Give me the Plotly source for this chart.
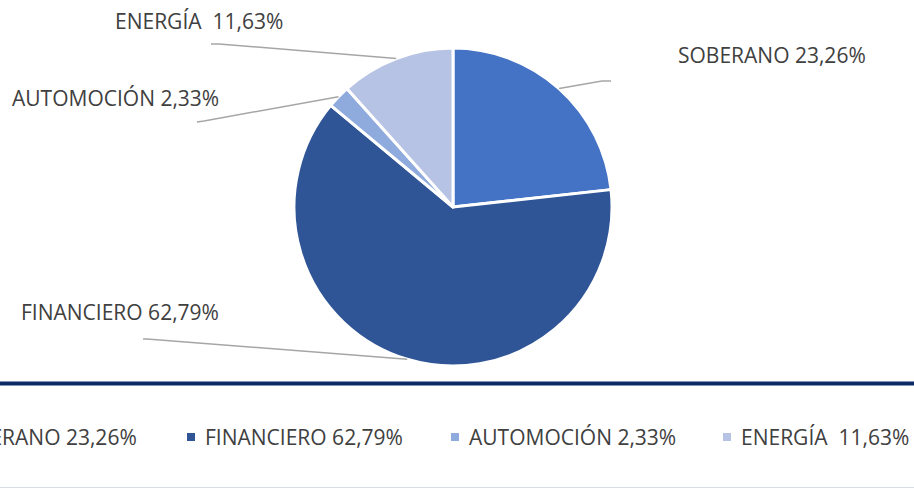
import math
import plotly.graph_objects as go

# ---- data ----
categories = ["SOBERANO", "FINANCIERO", "AUTOMOCIÓN", "ENERGÍA "]
values = [23.26, 62.79, 2.33, 11.63]
value_labels = ["23,26%", "62,79%", "2,33%", "11,63%"]
colors = ["#4472C4", "#2F5597", "#8FAADC", "#B7C3E4"]

W, H = 914, 489
FONT = "Open Sans"
TXT = "#404040"

# pie placement (pixels)
CX, CY, R = 453, 207, 159


def px(x):
    return x / W


def py(y):
    return 1 - y / H


fig = go.Figure()
fig.add_trace(go.Pie(
    labels=categories,
    values=values,
    sort=False,
    direction="clockwise",
    rotation=0,
    textinfo="none",
    hoverinfo="label+percent",
    marker=dict(colors=colors, line=dict(color="white", width=3)),
    domain=dict(x=[px(CX - R), px(CX + R)], y=[py(CY + R), py(CY - R)]),
    showlegend=False,
))

# outside labels: elbow point, end point, text position
label_layout = [
    dict(elbow=(602, 81), end=(611, 81), tx=676, ty=55),    # SOBERANO
    dict(elbow=(147, 339), end=(143, 339), tx=19, ty=312),  # FINANCIERO
    dict(elbow=(204, 121), end=(197, 122), tx=10, ty=98),   # AUTOMOCIÓN
    dict(elbow=(219, 44), end=(211, 44), tx=113, ty=21),    # ENERGÍA
]

total = sum(values)
cum = 0.0
shapes = []
annotations = []
for cat, v, vl, lay in zip(categories, values, value_labels, label_layout):
    mid = (cum + v / 2) / total
    cum += v
    ang = 2 * math.pi * mid
    sx = CX + R * math.sin(ang)
    sy = CY - R * math.cos(ang)
    ex, ey = lay["elbow"]
    fx, fy = lay["end"]
    path = f"M {px(sx)},{py(sy)} L {px(ex)},{py(ey)} L {px(fx)},{py(fy)}"
    shapes.append(dict(type="path", path=path, xref="paper", yref="paper",
                       line=dict(color="#A6A6A6", width=1.5)))
    annotations.append(dict(
        text=f"{cat} {vl}", x=px(lay["tx"]), y=py(lay["ty"]),
        xref="paper", yref="paper", xanchor="left", yanchor="middle",
        showarrow=False, font=dict(family=FONT, size=21, color=TXT)))

# separator lines
shapes.append(dict(type="line", xref="paper", yref="paper", x0=0, x1=1,
                   y0=py(383.5), y1=py(383.5), line=dict(color="#0B2A66", width=4)))
shapes.append(dict(type="line", xref="paper", yref="paper", x0=0, x1=1,
                   y0=py(487.5), y1=py(487.5), line=dict(color="#D9DEE4", width=1)))

# legend row (manual, first entry runs off the left edge as in the original)
legend_marker_x = [-65, 191, 455, 727]
LEG_Y = 437
for cat, vl, col, mx in zip(categories, value_labels, colors, legend_marker_x):
    shapes.append(dict(type="rect", xref="paper", yref="paper",
                       x0=px(mx - 4), x1=px(mx + 4), y0=py(LEG_Y + 4), y1=py(LEG_Y - 4),
                       fillcolor=col, line=dict(width=0)))
    annotations.append(dict(
        text=f"{cat} {vl}", x=px(mx + 12), y=py(LEG_Y),
        xref="paper", yref="paper", xanchor="left", yanchor="middle",
        showarrow=False, font=dict(family=FONT, size=21, color=TXT)))

fig.update_layout(
    width=W, height=H,
    margin=dict(l=0, r=0, t=0, b=0),
    paper_bgcolor="white", plot_bgcolor="white",
    shapes=shapes, annotations=annotations,
    showlegend=False,
)

fig.write_html("out.html",
               config={"displayModeBar": False},
               post_script="document.body.style.margin='0';document.body.style.overflow='hidden';")
